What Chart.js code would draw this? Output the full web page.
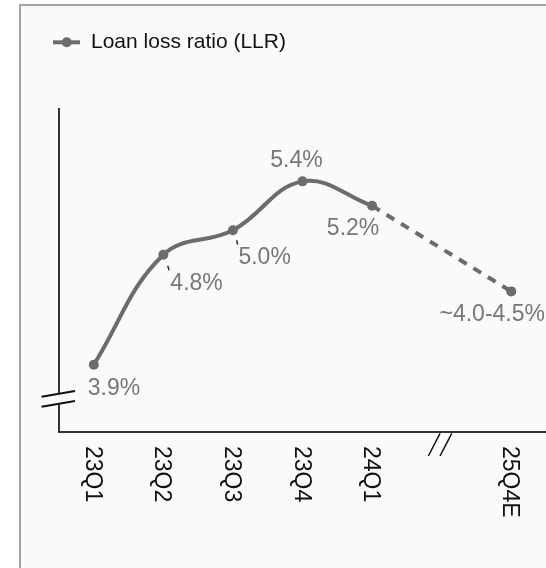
<!DOCTYPE html>
<html>
<head>
<meta charset="utf-8">
<script src="https://cdn.jsdelivr.net/npm/chart.js@4/dist/chart.umd.min.js"></script>
<style>
  html, body { margin: 0; padding: 0; background: #ffffff; overflow: hidden; }
  #frame { position: absolute; left: 19px; top: 4px; width: 600px; height: 600px;
           border: 2px solid #a2a2a2; background: #fafafa; }
  #c { position: absolute; left: 0; top: 0; }
</style>
</head>
<body>
<div id="frame"></div>
<canvas id="c" width="546" height="568"></canvas>
<script>
// ---- data ----
const categories   = ['23Q1', '23Q2', '23Q3', '23Q4', '24Q1', '', '25Q4E'];
const actualLLR    = [3.9, 4.8, 5.0, 5.4, 5.2, null, null];
const forecastLLR  = [null, null, null, null, 5.2, null, 4.5];
const valueLabels  = ['3.9%', '4.8%', '5.0%', '5.4%', '5.2%', null, '~4.0-4.5%'];
const seriesName   = 'Loan loss ratio (LLR)';
const breakIndex   = 5;

// ---- styling (label placement relative to each point) ----
const labelPlacement = [
  { dx: -6,  dy: 30,  align: 'left' },
  { dx: 7,   dy: 35,  align: 'left' },
  { dx: 5.5, dy: 34,  align: 'left' },
  { dx: -6,  dy: -14, align: 'center' },
  { dx: -19, dy: 29,  align: 'center' },
  null,
  { dx: -19, dy: 30,  align: 'center' }
];
const leaderTicks = { 1: [4.4, 11, 5.7, 15.7], 2: [3.7, 10, 4.7, 14.3] };

const LINE = '#6f6b69';
const LABEL = '#777777';
const FONT = '"Liberation Sans", Arial, sans-serif';
const BG = '#fafafa';

const decorPlugin = {
  id: 'decor',
  beforeDatasetsDraw(chart) {
    const ctx = chart.ctx, a = chart.chartArea;
    ctx.save();
    ctx.strokeStyle = '#333333';
    ctx.lineWidth = 2;
    ctx.beginPath();
    ctx.moveTo(a.left, a.top);
    ctx.lineTo(a.left, a.bottom + 1);
    ctx.moveTo(a.left - 1, a.bottom);
    ctx.lineTo(a.right, a.bottom);
    ctx.stroke();
    // y-axis break
    ctx.fillStyle = BG;
    ctx.fillRect(a.left - 3, 394, 6, 9);
    ctx.strokeStyle = '#111';
    ctx.lineWidth = 2;
    ctx.beginPath();
    ctx.moveTo(a.left - 17.5, 396.7); ctx.lineTo(a.left + 16, 391);
    ctx.moveTo(a.left - 17.5, 406.7); ctx.lineTo(a.left + 16, 401);
    ctx.stroke();
    // x-axis break
    const bx = chart.scales.x.getPixelForValue(breakIndex);
    ctx.lineWidth = 1.5;
    ctx.beginPath();
    ctx.moveTo(bx - 13.3, a.bottom + 24); ctx.lineTo(bx - 1.6, a.bottom + 1.3);
    ctx.moveTo(bx - 1.6, a.bottom + 24); ctx.lineTo(bx + 10.1, a.bottom + 1.3);
    ctx.stroke();
    ctx.restore();
  },
  afterDatasetsDraw(chart) {
    const ctx = chart.ctx, a = chart.chartArea;
    ctx.save();
    // value labels
    const m0 = chart.getDatasetMeta(0), m1 = chart.getDatasetMeta(1);
    ctx.font = '23px ' + FONT;
    ctx.textBaseline = 'alphabetic';
    ctx.fillStyle = LABEL;
    valueLabels.forEach((t, i) => {
      if (!t) return;
      const p = (actualLLR[i] != null ? m0.data[i] : m1.data[i]);
      const pl = labelPlacement[i];
      ctx.textAlign = pl.align;
      ctx.fillText(t, p.x + pl.dx, p.y + pl.dy);
    });
    // leader ticks
    ctx.strokeStyle = '#222';
    ctx.lineWidth = 1.4;
    Object.keys(leaderTicks).forEach(k => {
      const p = m0.data[+k], d = leaderTicks[k];
      ctx.beginPath();
      ctx.moveTo(p.x + d[0], p.y + d[1]);
      ctx.lineTo(p.x + d[2], p.y + d[3]);
      ctx.stroke();
    });
    // x tick labels (rotated clockwise)
    ctx.fillStyle = '#111';
    ctx.font = '23px ' + FONT;
    ctx.textAlign = 'left';
    categories.forEach((c, i) => {
      if (!c) return;
      const x = chart.scales.x.getPixelForValue(i);
      ctx.save();
      ctx.translate(x, a.bottom + 14);
      ctx.rotate(Math.PI / 2);
      ctx.fillText(c, 0, 8);
      ctx.restore();
    });
    // legend
    ctx.strokeStyle = LINE;
    ctx.lineWidth = 4;
    ctx.beginPath();
    ctx.moveTo(53, 42.3); ctx.lineTo(80, 42.3);
    ctx.stroke();
    ctx.fillStyle = LINE;
    ctx.beginPath();
    ctx.arc(66.7, 42.3, 5, 0, Math.PI * 2);
    ctx.fill();
    ctx.fillStyle = '#111';
    ctx.font = '21px ' + FONT;
    ctx.textBaseline = 'middle';
    ctx.fillText(seriesName, 91, 42.5);
    ctx.restore();
  }
};

new Chart(document.getElementById('c'), {
  type: 'line',
  data: {
    labels: categories,
    datasets: [
      {
        label: seriesName,
        data: actualLLR,
        borderColor: LINE,
        backgroundColor: LINE,
        borderWidth: 4,
        tension: 0.4,
        pointRadius: 5,
        pointBorderWidth: 0,
        pointBackgroundColor: LINE,
        spanGaps: false
      },
      {
        label: seriesName + ' (forecast)',
        data: forecastLLR,
        borderColor: LINE,
        backgroundColor: LINE,
        borderWidth: 4,
        borderDash: [9, 8],
        tension: 0,
        spanGaps: true,
        pointRadius: [0, 0, 0, 0, 0, 0, 5],
        pointBorderWidth: 0,
        pointBackgroundColor: LINE
      }
    ]
  },
  options: {
    responsive: false,
    animation: false,
    devicePixelRatio: 1,
    clip: false,
    layout: { autoPadding: false, padding: { left: 59, top: 108, right: 0, bottom: 136 } },
    plugins: { legend: { display: false }, tooltip: { enabled: false } },
    scales: {
      x: { type: 'category', offset: true, display: false },
      y: { min: 3.35, max: 6.0, display: false }
    }
  },
  plugins: [decorPlugin]
});
</script>
</body>
</html>
